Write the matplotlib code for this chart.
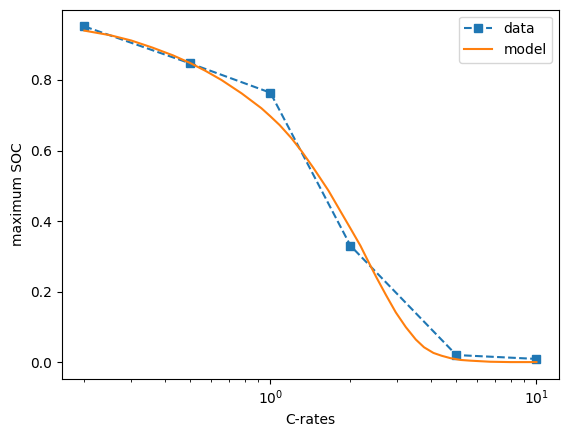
import numpy as np
import matplotlib.pyplot as plt

# measured max SOC per C-rate
c_rates = [0.2, 0.5, 1, 2, 5, 10]
soc_data = [0.952, 0.847, 0.764, 0.33, 0.02, 0.009]

# model curve
c_model = [0.2, 0.25, 0.3, 0.36, 0.43, 0.5, 0.57, 0.655, 0.78, 0.925, 1.0,
           1.084, 1.2, 1.31, 1.45, 1.654, 1.82, 2.0, 2.18, 2.32, 2.5, 2.72,
           2.96, 3.23, 3.52, 3.78, 4.1, 4.4, 4.76, 5.2, 5.66, 6.7, 8.0, 10.0]
soc_model = [0.94, 0.927, 0.912, 0.892, 0.87, 0.848, 0.826, 0.80, 0.762, 0.72,
             0.697, 0.672, 0.635, 0.598, 0.551, 0.486, 0.432, 0.379, 0.33,
             0.289, 0.241, 0.19, 0.141, 0.099, 0.064, 0.042, 0.026, 0.018,
             0.011, 0.006, 0.004, 0.001, 0.0, 0.0]

fig = plt.figure(figsize=(5.67, 4.37), dpi=100)
ax = fig.add_axes([0.109, 0.133, 0.877, 0.845])

ax.plot(c_rates, soc_data, 's--', label='data')
ax.plot(c_model, soc_model, '-', label='model')
ax.set_xscale('log')
ax.set_xlabel('C-rates')
ax.set_ylabel('maximum SOC')
ax.legend()

fig.savefig('out.png', dpi=100)
